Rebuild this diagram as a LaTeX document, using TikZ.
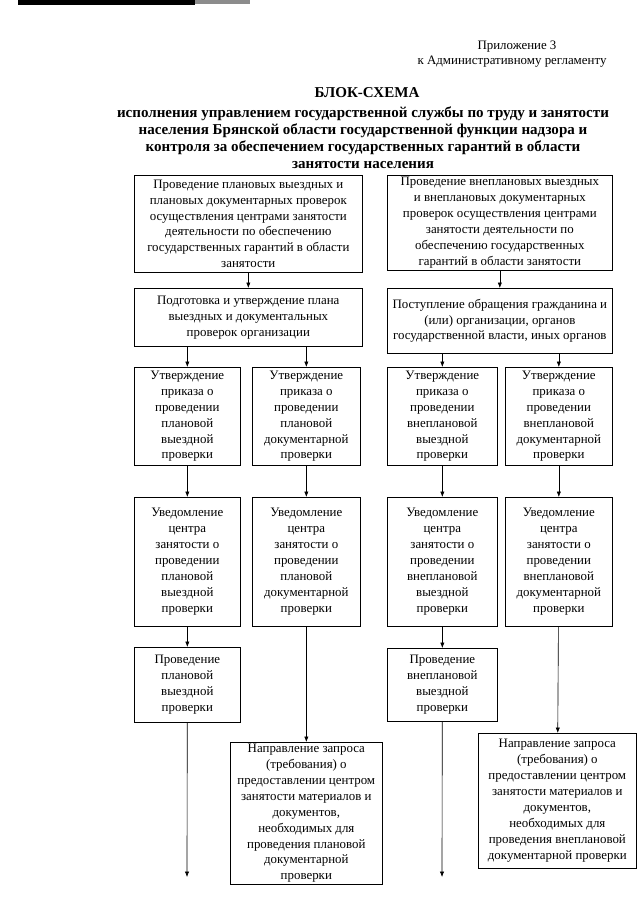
\documentclass[tikz,border=0pt]{standalone}
\usepackage{fontspec}
\setmainfont{Liberation Serif}
\usepackage{tikz}
\usetikzlibrary{arrows.meta, positioning}

\begin{document}
\begin{tikzpicture}[x=0.9302pt, y=-0.9302pt,
    blk/.style={draw, line width=0.6pt, align=center, inner sep=1pt, anchor=north west, font=\fontsize{12}{14.8}\selectfont},
    sz/.style 2 args={minimum width=#1*0.9302pt, minimum height=#2*0.9302pt},
    arr/.style={line width=0.6pt, -{Latex[length=5pt, width=4pt]}}]

  \useasboundingbox (0,0) rectangle (640,905);
  \fill[black] (18,0) rectangle (195,5);
  \fill[black!45] (195,0) rectangle (250,4);

  \node[font=\fontsize{12}{14}\selectfont] (app) at (517,47) {Приложение 3};
  \node[font=\fontsize{12}{14}\selectfont] (reg) at (512,62) {к Административному регламенту};
  \node[font=\fontsize{14}{16}\selectfont\bfseries] (head) at (367,93) {БЛОК-СХЕМА};
  \node[align=center, font=\fontsize{14}{15.8}\selectfont\bfseries] (title) at (363,138) {исполнения управлением государственной службы по труду и занятости\\населения Брянской области государственной функции надзора и\\контроля за обеспечением государственных гарантий в области\\занятости населения};

  \node[blk, sz={228}{97}] (b1L) at (134,175) {Проведение плановых выездных и\\плановых документарных проверок\\осуществления центрами занятости\\деятельности по обеспечению\\государственных гарантий в области\\занятости};
  \node[blk, sz={225}{95}] (b1R) at (387,175) {Проведение внеплановых выездных\\и внеплановых документарных\\проверок осуществления центрами\\занятости деятельности по\\обеспечению государственных\\гарантий в области занятости};

  \node[blk, sz={228}{58}] (b2L) at (134,288) {Подготовка и утверждение плана\\выездных и документальных\\проверок организации};
  \node[blk, sz={225}{65}] (b2R) at (387,288) {Поступление обращения гражданина и\\(или) организации, органов\\государственной власти, иных органов};

  \node[blk, sz={106}{98}] (u1) at (134,367) {Утверждение\\приказа о\\проведении\\плановой\\выездной\\проверки};
  \node[blk, sz={108}{98}] (u2) at (252,367) {Утверждение\\приказа о\\проведении\\плановой\\документарной\\проверки};
  \node[blk, sz={110}{98}] (u3) at (387,367) {Утверждение\\приказа о\\проведении\\внеплановой\\выездной\\проверки};
  \node[blk, sz={107}{98}] (u4) at (505,367) {Утверждение\\приказа о\\проведении\\внеплановой\\документарной\\проверки};

  \node[blk, sz={106}{129}] (n1) at (134,497) {Уведомление\\центра\\занятости о\\проведении\\плановой\\выездной\\проверки};
  \node[blk, sz={108}{129}] (n2) at (252,497) {Уведомление\\центра\\занятости о\\проведении\\плановой\\документарной\\проверки};
  \node[blk, sz={110}{129}] (n3) at (387,497) {Уведомление\\центра\\занятости о\\проведении\\внеплановой\\выездной\\проверки};
  \node[blk, sz={107}{129}] (n4) at (505,497) {Уведомление\\центра\\занятости о\\проведении\\внеплановой\\документарной\\проверки};

  \node[blk, sz={106}{75}] (p1) at (134,647) {Проведение\\плановой\\выездной\\проверки};
  \node[blk, sz={110}{73}] (p3) at (387,648) {Проведение\\внеплановой\\выездной\\проверки};

  \node[blk, sz={152}{142}] (z2) at (230,742) {Направление запроса\\(требования) о\\предоставлении центром\\занятости материалов и\\документов,\\необходимых для\\проведения плановой\\документарной\\проверки};
  \node[blk, sz={158}{135}] (z4) at (478,733) {Направление запроса\\(требования) о\\предоставлении центром\\занятости материалов и\\документов,\\необходимых для\\проведения внеплановой\\документарной проверки};

  \coordinate (e1) at (187,877);
  \coordinate (e3) at (442,877);

  \draw[arr] (b1L) -- (b2L);
  \draw[arr] (b1R) -- (b2R);
  \draw[arr] (b2L.south -| u1.north) -- (u1.north);
  \draw[arr] (b2L.south -| u2.north) -- (u2.north);
  \draw[arr] (b2R.south -| u3.north) -- (u3.north);
  \draw[arr] (b2R.south -| u4.north) -- (u4.north);
  \draw[arr] (u1) -- (n1);
  \draw[arr] (u2) -- (n2);
  \draw[arr] (u3) -- (n3);
  \draw[arr] (u4) -- (n4);
  \draw[arr] (n1) -- (p1);
  \draw[arr] (n3) -- (p3);
  \draw[arr] (n2) -- (z2);
  \draw[arr] (n4) -- (z4);
  \draw[arr] (p1) -- (e1);
  \draw[arr] (p3) -- (e3);
\end{tikzpicture}
\end{document}
